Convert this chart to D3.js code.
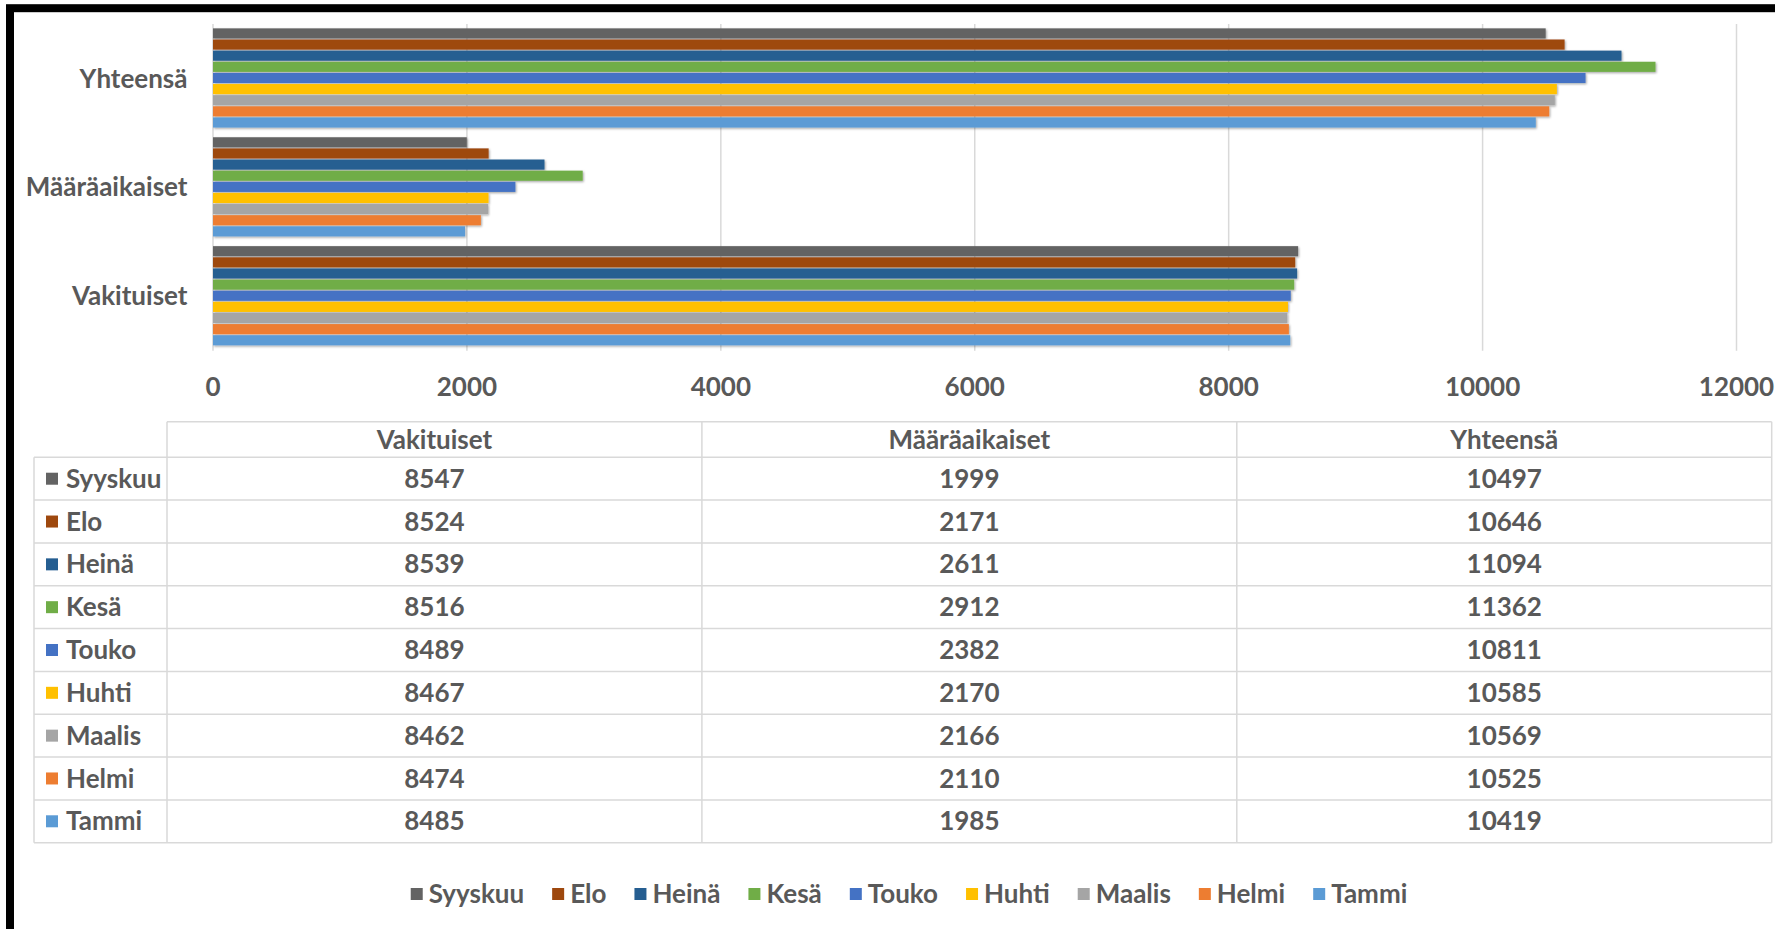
<!DOCTYPE html>
<html>
<head>
<meta charset="utf-8">
<script src="https://cdn.jsdelivr.net/npm/d3@7"></script>
<style>
  body { margin: 0; background: #fff; }
  svg text { font-family: Lato, "Open Sans", sans-serif; font-weight: 700; fill: #595959; }
</style>
</head>
<body>
<svg id="chart" width="1775" height="929"></svg>
<script>
// categories top to bottom as drawn in the bar chart
var chartCats = ["Yhteensä", "Määräaikaiset", "Vakituiset"];
// table column order
var tableCats = ["Vakituiset", "Määräaikaiset", "Yhteensä"];
var months = ["Syyskuu", "Elo", "Heinä", "Kesä", "Touko", "Huhti", "Maalis", "Helmi", "Tammi"];
var colors = ["#636363", "#9e480e", "#255e91", "#70ad47", "#4472c4", "#ffc000", "#a5a5a5", "#ed7d31", "#5b9bd5"];
var vakituiset = [8547, 8524, 8539, 8516, 8489, 8467, 8462, 8474, 8485];
var maaraaikaiset = [1999, 2171, 2611, 2912, 2382, 2170, 2166, 2110, 1985];
var yhteensa = [10497, 10646, 11094, 11362, 10811, 10585, 10569, 10525, 10419];
var xTicks = [0, 2000, 4000, 6000, 8000, 10000, 12000];

var valuesByCat = {
  "Vakituiset": vakituiset,
  "Määräaikaiset": maaraaikaiset,
  "Yhteensä": yhteensa
};
var color = d3.scaleOrdinal().domain(months).range(colors);

var svg = d3.select("#chart");

var defs = svg.append("defs");
defs.append("filter")
  .attr("id", "shadow")
  .attr("x", "-5%").attr("y", "-50%")
  .attr("width", "110%").attr("height", "250%")
  .append("feDropShadow")
  .attr("dx", 1).attr("dy", 1.2)
  .attr("stdDeviation", 1)
  .attr("flood-color", "#000")
  .attr("flood-opacity", 0.35);

var fs = 26;
var gridColor = "#d9d9d9";

// ---- bar chart ----
var plotTop = 24, plotBottom = 350.7;
var x = d3.scaleLinear().domain([0, 12000]).range([213, 1736.5]);
var y = d3.scaleBand().domain(chartCats).range([plotTop, plotBottom])
  .paddingInner(0.08).paddingOuter(0.04);
var yi = d3.scaleBand().domain(months).range([0, y.bandwidth()]);

svg.append("g").selectAll("line")
  .data(xTicks)
  .enter().append("line")
  .attr("x1", d => x(d)).attr("x2", d => x(d))
  .attr("y1", plotTop).attr("y2", plotBottom)
  .attr("stroke", gridColor)
  .attr("stroke-width", 1.5);

svg.append("g").selectAll("text")
  .data(xTicks)
  .enter().append("text")
  .attr("x", d => x(d))
  .attr("y", 386.7)
  .attr("dy", "0.35em")
  .attr("text-anchor", "middle")
  .style("font-size", fs + "px")
  .text(d => d);

svg.append("g").selectAll("text")
  .data(chartCats)
  .enter().append("text")
  .attr("x", 187.5)
  .attr("y", d => y(d) + y.bandwidth() / 2)
  .attr("dy", "0.35em")
  .attr("text-anchor", "end")
  .style("font-size", fs + "px")
  .text(d => d);

var groups = svg.append("g").selectAll("g")
  .data(chartCats)
  .enter().append("g")
  .attr("transform", d => "translate(0," + y(d) + ")");

groups.selectAll("rect")
  .data(function(cat) {
    return months.map((m, i) => ({ month: m, value: valuesByCat[cat][i] }));
  })
  .enter().append("rect")
  .attr("x", x(0))
  .attr("y", d => yi(d.month))
  .attr("width", d => x(d.value) - x(0))
  .attr("height", yi.bandwidth() - 1)
  .attr("fill", d => color(d.month))
  .attr("filter", "url(#shadow)");

// ---- data table ----
var tLeft = 34, tLabelRight = 167, tRight = 1771.7;
var tHeadTop = 421.7, tHeadBottom = 457.3, tBottom = 842.7;
var col = d3.scaleBand().domain(tableCats).range([tLabelRight, tRight]);
var row = d3.scaleBand().domain(months).range([tHeadBottom, tBottom]);

var grid = svg.append("g")
  .attr("stroke", gridColor)
  .attr("stroke-width", 1.5);

grid.append("line")
  .attr("x1", tLabelRight).attr("x2", tRight)
  .attr("y1", tHeadTop).attr("y2", tHeadTop);
grid.selectAll(".hline")
  .data(months.concat(["end"]))
  .enter().append("line")
  .attr("class", "hline")
  .attr("x1", tLeft).attr("x2", tRight)
  .attr("y1", (d, i) => tHeadBottom + i * row.step())
  .attr("y2", (d, i) => tHeadBottom + i * row.step());
grid.append("line")
  .attr("x1", tLeft).attr("x2", tLeft)
  .attr("y1", tHeadBottom).attr("y2", tBottom);
grid.selectAll(".vline")
  .data(tableCats)
  .enter().append("line")
  .attr("class", "vline")
  .attr("x1", d => col(d)).attr("x2", d => col(d))
  .attr("y1", tHeadTop).attr("y2", tBottom);
grid.append("line")
  .attr("x1", tRight).attr("x2", tRight)
  .attr("y1", tHeadTop).attr("y2", tBottom);

svg.append("g").selectAll("text")
  .data(tableCats)
  .enter().append("text")
  .attr("x", d => col(d) + col.bandwidth() / 2)
  .attr("y", (tHeadTop + tHeadBottom) / 2)
  .attr("dy", "0.35em")
  .attr("text-anchor", "middle")
  .style("font-size", fs + "px")
  .text(d => d);

var rows = svg.append("g").selectAll("g")
  .data(months)
  .enter().append("g")
  .attr("transform", d => "translate(0," + (row(d) + row.bandwidth() / 2) + ")");

rows.append("rect")
  .attr("x", 46).attr("y", -6)
  .attr("width", 12).attr("height", 12)
  .attr("fill", d => color(d));

rows.append("text")
  .attr("x", 66)
  .attr("dy", "0.35em")
  .style("font-size", fs + "px")
  .text(d => d);

rows.selectAll(".val")
  .data(function(m) {
    var i = months.indexOf(m);
    return tableCats.map(c => ({ cat: c, value: valuesByCat[c][i] }));
  })
  .enter().append("text")
  .attr("class", "val")
  .attr("x", d => col(d.cat) + col.bandwidth() / 2)
  .attr("dy", "0.35em")
  .attr("text-anchor", "middle")
  .style("font-size", fs + "px")
  .text(d => d.value);

// ---- legend ----
var legend = svg.append("g");
var items = legend.selectAll("g")
  .data(months)
  .enter().append("g");
items.append("rect")
  .attr("y", -6)
  .attr("width", 12).attr("height", 12)
  .attr("fill", d => color(d));
items.append("text")
  .attr("x", 18)
  .attr("dy", "0.35em")
  .style("font-size", fs + "px")
  .text(d => d);

var gap = 28;
var offset = 0;
items.each(function() {
  var w = 18 + d3.select(this).select("text").node().getComputedTextLength();
  d3.select(this).attr("transform", "translate(" + offset + ",0)");
  offset += w + gap;
});
var legendWidth = offset - gap;
legend.attr("transform", "translate(" + (909 - legendWidth / 2) + ",894)");

// ---- outer frame ----
svg.append("rect")
  .attr("x", 10).attr("y", 8.2)
  .attr("width", 1790).attr("height", 925)
  .attr("fill", "none")
  .attr("stroke", "#000")
  .attr("stroke-width", 8);
</script>
</body>
</html>
